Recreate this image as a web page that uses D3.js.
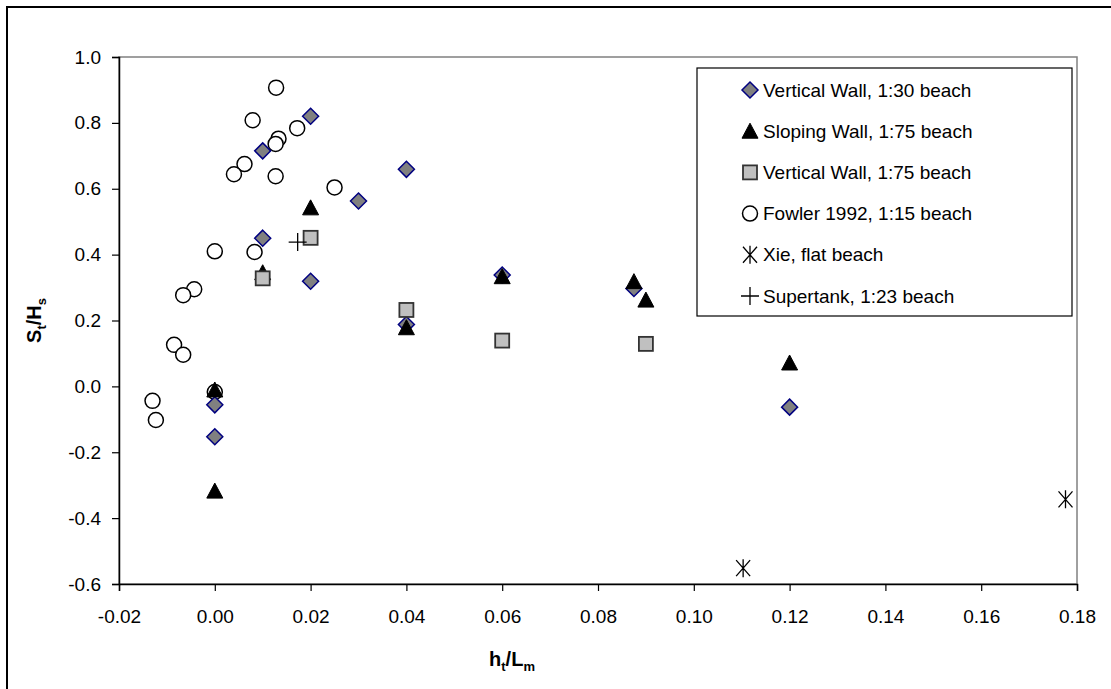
<script src="https://d3js.org/d3.v7.min.js"></script>

<style>
* {
    padding: 0px;
    margin: 0px;
}
body {
    background: #fff;
}
text {
    font-family: 'Liberation Sans', Arial, sans-serif;
}
</style>

<svg width="1111" height="689"></svg>

<script>
// ---- data ----
let seriesNames = [
    "Vertical Wall, 1:30 beach",
    "Sloping Wall, 1:75 beach",
    "Vertical Wall, 1:75 beach",
    "Fowler 1992, 1:15 beach",
    "Xie, flat beach",
    "Supertank, 1:23 beach"
]

let vw30 = [
    [0.020, 0.820], [0.010, 0.715], [0.030, 0.563], [0.040, 0.659],
    [0.010, 0.450], [0.020, 0.319], [0.060, 0.338], [0.040, 0.188],
    [0.0875, 0.297], [0.120, -0.063], [0.000, -0.056], [0.000, -0.153]
]

let sw75 = [
    [0.020, 0.542], [0.010, 0.345], [0.000, -0.011], [0.000, -0.318],
    [0.040, 0.178], [0.060, 0.333], [0.0875, 0.318], [0.090, 0.262],
    [0.120, 0.071]
]

let vw75 = [
    [0.020, 0.451], [0.010, 0.328], [0.040, 0.232], [0.060, 0.139],
    [0.090, 0.129]
]

let fowler = [
    [0.0128, 0.907], [0.0079, 0.808], [0.0172, 0.784], [0.0133, 0.752],
    [0.0127, 0.736], [0.0062, 0.675], [0.0040, 0.644], [0.0127, 0.638],
    [0.0250, 0.604], [0.0000, 0.410], [0.0083, 0.408], [-0.0043, 0.295],
    [-0.0066, 0.277], [-0.0085, 0.126], [-0.0066, 0.096], [0.0000, -0.017],
    [-0.0130, -0.044], [-0.0123, -0.102]
]

let xie = [[0.1103, -0.552], [0.1776, -0.343]]

let supertank = [[0.0173, 0.438]]

let xTicks = [-0.02, 0.00, 0.02, 0.04, 0.06, 0.08, 0.10, 0.12, 0.14, 0.16, 0.18]
let yTicks = [-0.6, -0.4, -0.2, 0.0, 0.2, 0.4, 0.6, 0.8, 1.0]

// ---- layout ----
let svg = d3.select("svg")

let x = d3.scaleLinear().domain([-0.02, 0.18]).range([119, 1077])
let y = d3.scaleLinear().domain([-0.6, 1.0]).range([584, 57])

// outer chart border (right/bottom edges fall outside the crop)
svg.append("rect")
    .attr("x", 7).attr("y", 7)
    .attr("width", 1120).attr("height", 700)
    .attr("fill", "#fff")
    .attr("stroke", "#000")
    .attr("stroke-width", 2)

// plot area border
svg.append("rect")
    .attr("x", x(-0.02)).attr("y", y(1.0))
    .attr("width", x(0.18) - x(-0.02))
    .attr("height", y(-0.6) - y(1.0))
    .attr("fill", "none")
    .attr("stroke", "#808080")
    .attr("stroke-width", 1.5)

function fmt(d, n) {
    let s = d.toFixed(n)
    if (s === "-0.0" || s === "-0.00") s = s.slice(1)
    return s
}

let gx = svg.append("g")
    .attr("transform", "translate(0," + y(-0.6) + ")")
    .call(d3.axisBottom(x).tickValues(xTicks).tickSize(7).tickPadding(19)
        .tickFormat((d) => fmt(d, 2)))

let gy = svg.append("g")
    .attr("transform", "translate(" + x(-0.02) + ",0)")
    .call(d3.axisLeft(y).tickValues(yTicks).tickSize(7).tickPadding(11)
        .tickFormat((d) => fmt(d, 1)))

for (let g of [gx, gy]) {
    g.select(".domain").attr("stroke", "#000").attr("stroke-width", 1.5)
    g.selectAll(".tick line").attr("stroke", "#000").attr("stroke-width", 1.2)
    g.selectAll(".tick text")
        .attr("fill", "#000")
        .attr("font-size", "19px")
        .attr("font-family", "'Liberation Sans', Arial, sans-serif")
}

// axis titles
let yTitle = svg.append("text")
    .attr("transform", "translate(41," + ((y(1.0) + y(-0.6)) / 2) + ") rotate(-90)")
    .attr("text-anchor", "middle")
    .attr("font-size", "20px")
    .attr("font-weight", "bold")
yTitle.append("tspan").text("S")
yTitle.append("tspan").attr("font-size", "13px").attr("dy", 5).text("t")
yTitle.append("tspan").attr("dy", -5).text("/H")
yTitle.append("tspan").attr("font-size", "13px").attr("dy", 5).text("s")

let xTitle = svg.append("text")
    .attr("x", 512).attr("y", 666)
    .attr("text-anchor", "middle")
    .attr("font-size", "20px")
    .attr("font-weight", "bold")
xTitle.append("tspan").text("h")
xTitle.append("tspan").attr("font-size", "13px").attr("dy", 5).text("t")
xTitle.append("tspan").attr("dy", -5).text("/L")
xTitle.append("tspan").attr("font-size", "13px").attr("dy", 5).text("m")

// ---- marker shapes ----
function drawMarker(sel, kind) {
    if (kind === "diamond") {
        sel.append("path").attr("d", "M0,-8L8,0L0,8L-8,0Z")
            .attr("fill", "#808080").attr("stroke", "#000080").attr("stroke-width", 1.5)
    } else if (kind === "triangle") {
        sel.append("path").attr("d", "M0,-8L8,7L-8,7Z")
            .attr("fill", "#000").attr("stroke", "#000").attr("stroke-width", 1)
    } else if (kind === "square") {
        sel.append("rect").attr("x", -7).attr("y", -7).attr("width", 14).attr("height", 14)
            .attr("fill", "#c0c0c0").attr("stroke", "#333").attr("stroke-width", 1.8)
    } else if (kind === "circle") {
        sel.append("circle").attr("r", 7.5)
            .attr("fill", "#fff").attr("stroke", "#000").attr("stroke-width", 1.5)
    } else if (kind === "star") {
        sel.append("path").attr("d", "M-7,-8L7,8M-7,8L7,-8M0,-9L0,9")
            .attr("fill", "none").attr("stroke", "#000").attr("stroke-width", 1.3)
    } else if (kind === "plus") {
        sel.append("path").attr("d", "M-9,0L9,0M0,-9L0,9")
            .attr("fill", "none").attr("stroke", "#000").attr("stroke-width", 1.3)
    }
}

let kinds = ["diamond", "triangle", "square", "circle", "star", "plus"]
let allSeries = [vw30, sw75, vw75, fowler, xie, supertank]

// draw order: circles underneath, then the wall series on top
let drawOrder = [3, 0, 1, 2, 4, 5]
let marks = svg.append("g")
for (let i of drawOrder) {
    marks.append("g").selectAll("g")
        .data(allSeries[i])
        .join("g")
        .attr("transform", (d) => "translate(" + x(d[0]) + "," + y(d[1]) + ")")
        .each(function () { drawMarker(d3.select(this), kinds[i]) })
}

// ---- legend ----
let legend = svg.append("g")
legend.append("rect")
    .attr("x", 697).attr("y", 68)
    .attr("width", 375).attr("height", 248)
    .attr("fill", "#fff")
    .attr("stroke", "#000")
    .attr("stroke-width", 1.2)

seriesNames.forEach(function (name, i) {
    let row = legend.append("g")
        .attr("transform", "translate(750," + (90 + i * 41.2) + ")")
    drawMarker(row, kinds[i])
    row.append("text")
        .attr("x", 13).attr("dy", "0.35em")
        .attr("font-size", "19px")
        .attr("fill", "#000")
        .text(name)
})
</script>
